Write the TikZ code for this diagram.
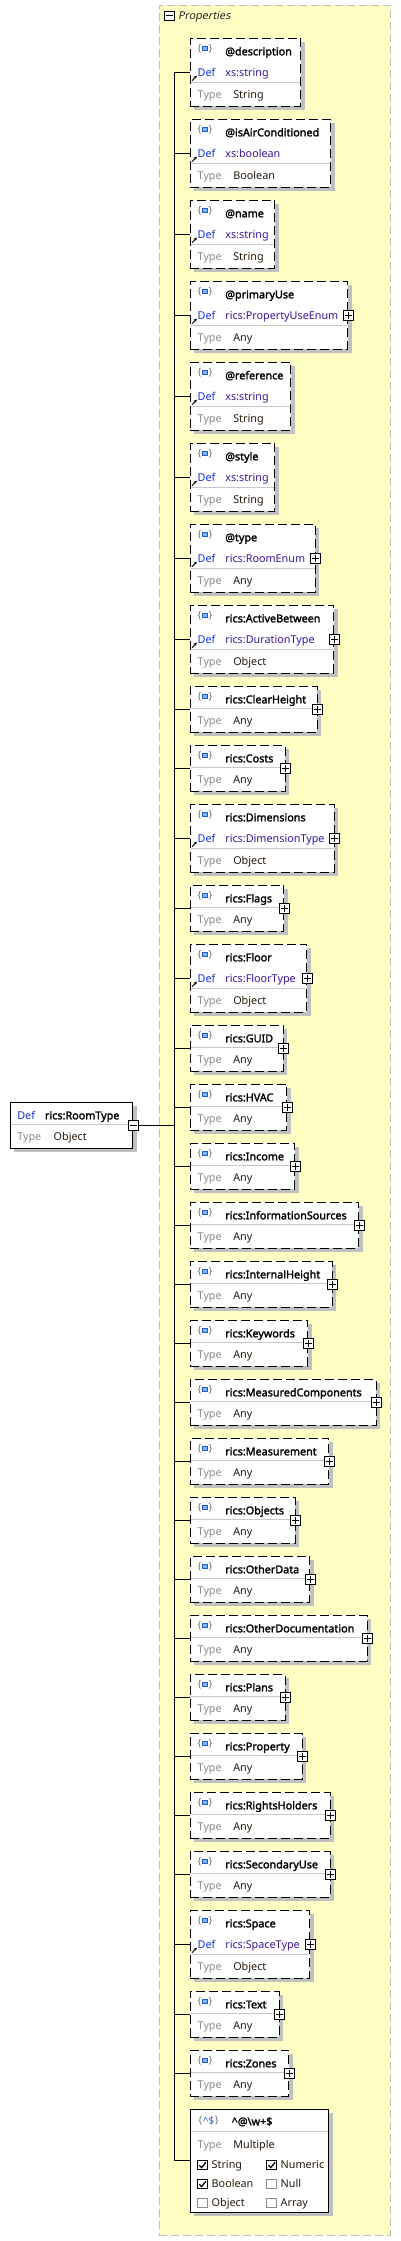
\documentclass[tikz,border=0pt]{standalone}
\usepackage{fontspec}
\setmainfont{Noto Sans}[AutoFakeBold=2,AutoFakeSlant=0.2]
\usetikzlibrary{fit,shadows,arrows.meta}
\definecolor{shgray}{RGB}{192,192,192}
\definecolor{sepgray}{RGB}{200,200,200}
\definecolor{contgray}{RGB}{190,190,190}
\definecolor{contfill}{RGB}{255,255,196}
\definecolor{defblue}{RGB}{20,50,220}
\definecolor{defval}{RGB}{60,20,150}
\definecolor{typegray}{RGB}{140,140,140}
\definecolor{typeval}{RGB}{40,25,10}
\definecolor{iconblue}{RGB}{30,90,220}
\definecolor{iconfill}{RGB}{130,180,245}
\definecolor{bracegray}{RGB}{120,120,120}
\tikzset{
  base/.style={inner sep=0pt, outer sep=0pt, font=\fontsize{10.8pt}{12pt}\selectfont},
  cbox/.style={draw=black, line width=1pt, dash pattern=on 9pt off 4pt, fill=white, inner sep=0pt,
    drop shadow={shadow xshift=4pt, shadow yshift=-4pt, opacity=1, fill=shgray}},
  sbox/.style={draw=black, line width=1pt, fill=white, inner sep=0pt,
    drop shadow={shadow xshift=4pt, shadow yshift=-4pt, opacity=1, fill=shgray}},
  nm/.style={base, anchor=base west, text=black, font=\fontsize{10.8pt}{12pt}\bfseries\selectfont},
  deflab/.style={base, anchor=base west, text=defblue},
  defv/.style={base, anchor=base west, text=defval},
  typelab/.style={base, anchor=base west, text=typegray},
  typev/.style={base, anchor=base west, text=typeval},
  sepline/.style={draw=sepgray, line width=1pt},
  conn/.style={draw=black, line width=1pt},
  plusb/.style={draw=black, fill=white, minimum size=10pt, inner sep=0pt, line width=0.9pt},
  brace/.style={base, text=bracegray, font=\fontsize{10pt}{12pt}\selectfont},
  refarrow/.style={-{Stealth[length=3pt,width=3.2pt]}, line width=0.9pt},
  chk/.style={draw=black, fill=white, minimum size=9.6pt, inner sep=0pt, line width=0.9pt},
  unchk/.style={draw=typegray, fill=white, minimum size=9.6pt, inner sep=0pt, line width=0.9pt},
}
\newcommand{\elicon}[1]{% top
  \node[brace] at (199.6,{#1+10.2}) {\{};
  \node[brace] at (210.6,{#1+10.2}) {\}};
  \draw[draw=iconblue, fill=iconfill, line width=1pt] (202.8,{#1+8.2}) rectangle (207.0,{#1+12.6});
}
\newcommand{\childthree}[6]{% id top right name def type
  \node[cbox, fit={(190.3,#2) (#3,{#2+67.7})}] (#1) {};
  \elicon{#2}
  \node[nm] (#1n) at (225.3,{#2+17}) {#4};
  \node[deflab] (#1d) at (197.7,{#2+38}) {Def};
  \node[defv] (#1dv) at (225.3,{#2+38}) {#5};
  \draw[sepline] (190.8,{#2+44}) -- ({#3-0.5},{#2+44});
  \node[typelab] (#1t) at (197.7,{#2+60}) {Type};
  \node[typev] (#1tv) at (233.3,{#2+60}) {#6};
  \draw[refarrow] (192.0,{#2+42.4}) -- (196.8,{#2+37.4});
  \draw[conn] (sp |- #1.west) -- (#1.west);
}
\newcommand{\childtwo}[5]{% id top right name type
  \node[cbox, fit={(190.3,#2) (#3,{#2+45.7})}] (#1) {};
  \elicon{#2}
  \node[nm] (#1n) at (225.3,{#2+17}) {#4};
  \draw[sepline] (190.8,{#2+22.3}) -- ({#3-0.5},{#2+22.3});
  \node[typelab] (#1t) at (197.7,{#2+38.5}) {Type};
  \node[typev] (#1tv) at (233.3,{#2+38.5}) {#5};
  \draw[conn] (sp |- #1.west) -- (#1.west);
}
\newcommand{\plusbox}[1]{%
  \node[plusb] (#1p) at (#1.east) {};
  \draw[line width=0.9pt] ([xshift=-3.6pt]#1p.center) -- ([xshift=3.6pt]#1p.center);
  \draw[line width=0.9pt] ([yshift=-3.6pt]#1p.center) -- ([yshift=3.6pt]#1p.center);
}
\newcommand{\chkmark}[1]{\draw[line width=1.3pt] ([xshift=-3.2pt,yshift=-0.2pt]#1.center) -- ([xshift=-0.9pt,yshift=-2.6pt]#1.center) -- ([xshift=3.4pt,yshift=2.8pt]#1.center);}
\begin{document}
\begin{tikzpicture}[x=1pt,y=-1pt]
\useasboundingbox (0,0) rectangle (401,2241);
\fill[white] (0,0) rectangle (401,2241);
% container
\node[draw=contgray, fill=contfill, line width=1pt, dash pattern=on 8pt off 4pt, inner sep=0pt,
  fit={(159.3,5.3) (390.5,2235)}] (cont) {};
\node[draw=black, fill=white, minimum size=9.5pt, inner sep=0pt, line width=0.9pt] (propm) at (169.3,15.7) {};
\draw[line width=0.9pt] ([xshift=-3.3pt]propm.center) -- ([xshift=3.3pt]propm.center);
\node[base, anchor=base west, text=black!85, font=\fontsize{10.8pt}{12pt}\itshape\selectfont] (proptxt) at (178,19.6) {Properties};
\coordinate (sp) at (174.7,0);
% children
\childthree{b1}{38.3}{300.7}{@description}{xs:string}{String}
\childthree{b2}{119.3}{330.7}{@isAirConditioned}{xs:boolean}{Boolean}
\childthree{b3}{200.3}{274.7}{@name}{xs:string}{String}
\childthree{b4}{281.3}{347.7}{@primaryUse}{rics:PropertyUseEnum}{Any}\plusbox{b4}
\childthree{b5}{362.3}{290.7}{@reference}{xs:string}{String}
\childthree{b6}{443.3}{274.7}{@style}{xs:string}{String}
\childthree{b7}{524.3}{315.3}{@type}{rics:RoomEnum}{Any}\plusbox{b7}
\childthree{b8}{605.3}{333.7}{rics:ActiveBetween}{rics:DurationType}{Object}\plusbox{b8}
\childtwo{b9}{686.3}{317.3}{rics:ClearHeight}{Any}\plusbox{b9}
\childtwo{b10}{745.3}{285}{rics:Costs}{Any}\plusbox{b10}
\childthree{b11}{804.3}{334.3}{rics:Dimensions}{rics:DimensionType}{Object}\plusbox{b11}
\childtwo{b12}{885.3}{283.7}{rics:Flags}{Any}\plusbox{b12}
\childthree{b13}{944.3}{306.7}{rics:Floor}{rics:FloorType}{Object}\plusbox{b13}
\childtwo{b14}{1025.3}{283.3}{rics:GUID}{Any}\plusbox{b14}
\childtwo{b15}{1084.3}{286.7}{rics:HVAC}{Any}\plusbox{b15}
\childtwo{b16}{1143.3}{294.7}{rics:Income}{Any}\plusbox{b16}
\childtwo{b17}{1202.3}{358.7}{rics:InformationSources}{Any}\plusbox{b17}
\childtwo{b18}{1261.3}{332}{rics:InternalHeight}{Any}\plusbox{b18}
\childtwo{b19}{1320.3}{307.7}{rics:Keywords}{Any}\plusbox{b19}
\childtwo{b20}{1379.3}{376}{rics:MeasuredComponents}{Any}\plusbox{b20}
\childtwo{b21}{1438.3}{328.7}{rics:Measurement}{Any}\plusbox{b21}
\childtwo{b22}{1497.3}{295}{rics:Objects}{Any}\plusbox{b22}
\childtwo{b23}{1556.3}{309.7}{rics:OtherData}{Any}\plusbox{b23}
\childtwo{b24}{1615.3}{367}{rics:OtherDocumentation}{Any}\plusbox{b24}
\childtwo{b25}{1674.3}{285}{rics:Plans}{Any}\plusbox{b25}
\childtwo{b26}{1733.3}{302}{rics:Property}{Any}\plusbox{b26}
\childtwo{b27}{1792.3}{330}{rics:RightsHolders}{Any}\plusbox{b27}
\childtwo{b28}{1851.3}{330}{rics:SecondaryUse}{Any}\plusbox{b28}
\childthree{b29}{1910.3}{309.7}{rics:Space}{rics:SpaceType}{Object}\plusbox{b29}
\childtwo{b30}{1991.3}{279}{rics:Text}{Any}\plusbox{b30}
\childtwo{b31}{2050.3}{288.7}{rics:Zones}{Any}\plusbox{b31}
% pattern box
\node[sbox, fit={(190.3,2109.3) (328.7,2212.3)}] (b32) {};
\node[brace] (b32i1) at (200.3,2120.7) {\{};
\node[base, text=iconblue, font=\fontsize{10pt}{12pt}\selectfont] (b32i2) at (208.5,2120.7) {\^{}\$};
\node[brace] (b32i3) at (216.8,2120.7) {\}};
\node[nm] (b32n) at (231.7,2125.3) {\^{}@\textbackslash w+\$};
\draw[sepline] (190.8,2131.3) -- (328.2,2131.3);
\node[typelab] (b32t) at (197.7,2148) {Type};
\node[typev] (b32tv) at (233.3,2148) {Multiple};
\node[chk] (c1) at (202.5,2165) {}; \chkmark{c1}
\node[typev] (c1l) at (211.7,2168.8) {String};
\node[chk] (c2) at (271.7,2165) {}; \chkmark{c2}
\node[typev] (c2l) at (280.7,2168.8) {Numeric};
\node[chk] (c3) at (202.5,2184) {}; \chkmark{c3}
\node[typev] (c3l) at (211.7,2187.8) {Boolean};
\node[unchk] (c4) at (271.7,2184) {};
\node[typev] (c4l) at (280.7,2187.8) {Null};
\node[unchk] (c5) at (202.5,2203) {};
\node[typev] (c5l) at (211.7,2206.8) {Object};
\node[unchk] (c6) at (271.7,2203) {};
\node[typev] (c6l) at (280.7,2206.8) {Array};
\draw[conn] (sp |- b32.west) -- (b32.west);
% spine
\draw[conn] (sp |- b1.west) -- (sp |- b32.west);
% root
\node[sbox, fit={(10.3,1102.3) (132.7,1148.3)}] (root) {};
\node[deflab] (rootd) at (17.3,1119.3) {Def};
\node[nm] (rootn) at (45,1119.3) {rics:RoomType};
\draw[sepline] (10.8,1124.3) -- (132.2,1124.3);
\node[typelab] (roott) at (17.3,1140.8) {Type};
\node[typev] (roottv) at (53.7,1140.8) {Object};
\node[plusb] (rootm) at (root.east) {};
\draw[line width=0.9pt] ([xshift=-3.6pt]rootm.center) -- ([xshift=3.6pt]rootm.center);
\draw[conn] (rootm.east) -- (sp |- rootm.east);
\end{tikzpicture}
\end{document}
